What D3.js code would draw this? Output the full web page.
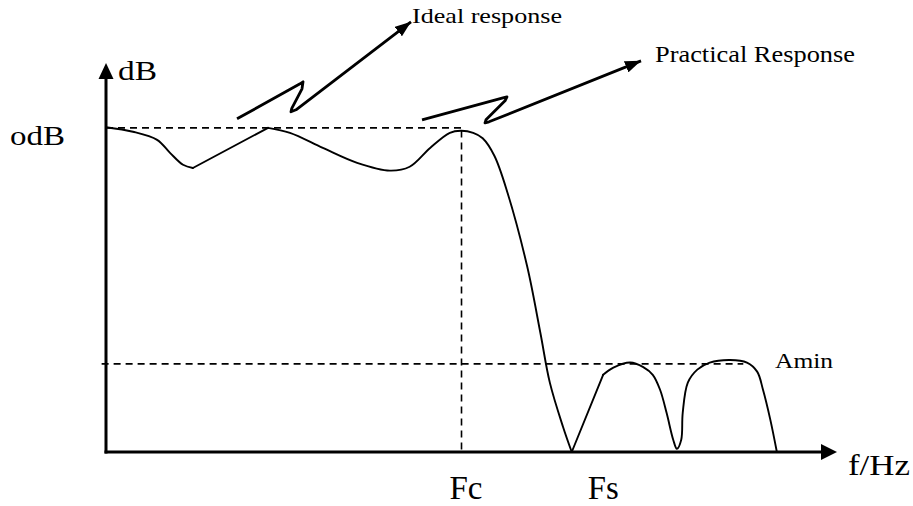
<!DOCTYPE html>
<html>
<head>
<meta charset="utf-8">
<script src="https://cdn.jsdelivr.net/npm/d3@7"></script>
<style>
	html, body { margin: 0; padding: 0; background: #fff; }
	svg { display: block; }
</style>
</head>
<body>
<script>
// frequency in arbitrary units along the axis, gain in dB
const fc = 48.7;
const fs = 63.8;
const aMin = -36.4;

const responseFreq = [0, 3.7, 7.0, 8.77, 10.55, 11.9, 22.2, 25.2, 29.7, 34.4, 38.9, 41.6, 44.4,
	47.1, 48.6, 50.3, 51.6, 53.2, 55.0, 57.7, 59.5, 60.8, 62.6, 63.8, 68.1, 69.5, 71.8, 73.6,
	74.9, 75.9, 76.8, 77.7, 78.2, 78.8, 79.0, 79.7, 81.0, 82.7, 85.5, 87.8, 89.2, 90.0, 91.0, 91.9];
const responseDb = [0.1, -0.6, -1.85, -3.86, -5.7, -6.2, 0, -0.77, -3.1, -5.4, -6.6, -6.0, -3.1,
	-0.77, -0.46, -0.77, -1.6, -4.3, -10.0, -21.4, -31.6, -39.3, -46.1, -50, -38.1, -37.0, -36.2, -36.9,
	-38.1, -40.4, -44.0, -48.1, -49.5, -48.1, -44.0, -39.3, -37.3, -36.2, -35.8, -36.2, -37.6, -40.4, -45.0, -50];
// indices where the curve has a corner; pieces between are smoothed
const corners = [0, 5, 6, 23, 24, responseFreq.length - 1];

// callout arrows, in the same units
const idealArrowFreq = [17.95, 26.58, 26.99, 26.85, 25.45, 25.34, 26.03, 41.78];
const idealArrowDb = [1.39, 6.79, 7.10, 6.02, 3.0, 2.47, 2.78, 16.35];
const practicalArrowFreq = [43.29, 54.38, 54.93, 54.66, 52.05, 51.92, 52.47, 73.29];
const practicalArrowDb = [1.23, 4.63, 4.78, 4.16, 1.23, 0.77, 0.93, 10.33];

const W = 913, H = 506;
const FONT = '"Liberation Serif"';
const x = d3.scaleLinear().domain([0, 100]).range([106, 836]);
const y = d3.scaleLinear().domain([-50, 10]).range([452, 63]);

const svg = d3.select('body').append('svg')
	.attr('width', W)
	.attr('height', H);

svg.append('rect').attr('width', W).attr('height', H).attr('fill', '#fff');

const defs = svg.append('defs');
defs.append('marker')
	.attr('id', 'head')
	.attr('markerUnits', 'userSpaceOnUse')
	.attr('viewBox', '0 0 16 12')
	.attr('refX', 16)
	.attr('refY', 6)
	.attr('markerWidth', 16)
	.attr('markerHeight', 12)
	.attr('orient', 'auto')
	.append('path')
	.attr('d', 'M0,0 L16,6 L0,12 Z')
	.attr('fill', '#000');

const yTop = y.range()[1], yBot = y.range()[0];
const xL = x.range()[0], xR = x.range()[1];

// dashed guides
const dashed = svg.append('g')
	.attr('stroke', '#000')
	.attr('stroke-width', 1.6)
	.attr('stroke-dasharray', '7,5')
	.attr('fill', 'none');
dashed.append('line')
	.attr('x1', x(0)).attr('y1', y(0))
	.attr('x2', x(fc)).attr('y2', y(0));
dashed.append('line')
	.attr('x1', x(fc)).attr('y1', y(-0.4))
	.attr('x2', x(fc)).attr('y2', yBot);
dashed.append('line')
	.attr('x1', x(-0.6)).attr('y1', y(aMin))
	.attr('x2', x(87.3)).attr('y2', y(aMin));

// axes
const axes = svg.append('g').attr('stroke', '#000').attr('stroke-width', 3);
axes.append('line')
	.attr('x1', xL).attr('y1', yBot + 1.5)
	.attr('x2', xL).attr('y2', yTop + 14);
axes.append('line')
	.attr('x1', xL - 1.5).attr('y1', yBot)
	.attr('x2', xR - 12).attr('y2', yBot);
svg.append('path')
	.attr('d', `M${xL},${yTop} L${xL - 7.5},${yTop + 16} L${xL + 7.5},${yTop + 16} Z`)
	.attr('fill', '#000');
svg.append('path')
	.attr('d', `M${xR + 1},${yBot} L${xR - 15},${yBot - 8} L${xR - 15},${yBot + 8} Z`)
	.attr('fill', '#000');

// response curve, drawn piece by piece so the corners stay sharp
const curve = d3.line()
	.x(i => x(responseFreq[i]))
	.y(i => y(responseDb[i]))
	.curve(d3.curveCatmullRom.alpha(0.5));
const pieces = d3.pairs(corners).map(([a, b]) => d3.range(a, b + 1));
svg.append('g')
	.selectAll('path')
	.data(pieces)
	.join('path')
	.attr('d', curve)
	.attr('fill', 'none')
	.attr('stroke', '#000')
	.attr('stroke-width', 1.9)
	.attr('stroke-linejoin', 'round')
	.attr('stroke-linecap', 'round');

// callout arrows
function callout(fr, db) {
	svg.append('path')
		.attr('d', d3.line().x(i => x(fr[i])).y(i => y(db[i]))(d3.range(fr.length)))
		.attr('fill', 'none')
		.attr('stroke', '#000')
		.attr('stroke-width', 2.8)
		.attr('stroke-linejoin', 'round')
		.attr('marker-end', 'url(#head)');
}
callout(idealArrowFreq, idealArrowDb);
callout(practicalArrowFreq, practicalArrowDb);

// labels
function label(txt, px, py, size, len) {
	svg.append('text')
		.attr('x', px)
		.attr('y', py)
		.style('font-family', FONT)
		.style('font-size', size + 'px')
		.attr('textLength', len)
		.attr('lengthAdjust', 'spacingAndGlyphs')
		.attr('fill', '#000')
		.text(txt);
}
label('dB', xL + 12, yTop + 17, 28, 39);
label('odB', 10, y(0) + 17, 28, 55);
label('Fc', x(fc) - 12, 499, 33, 33);
label('Fs', x(fs) + 16, 499, 33, 31);
label('f/Hz', xR + 12, yBot + 23, 30, 62);
label('Amin', 775, y(aMin) + 4, 22, 58);
label('Ideal response', 412, 23, 22, 150);
label('Practical Response', 655, 62, 23, 200);
</script>
</body>
</html>
